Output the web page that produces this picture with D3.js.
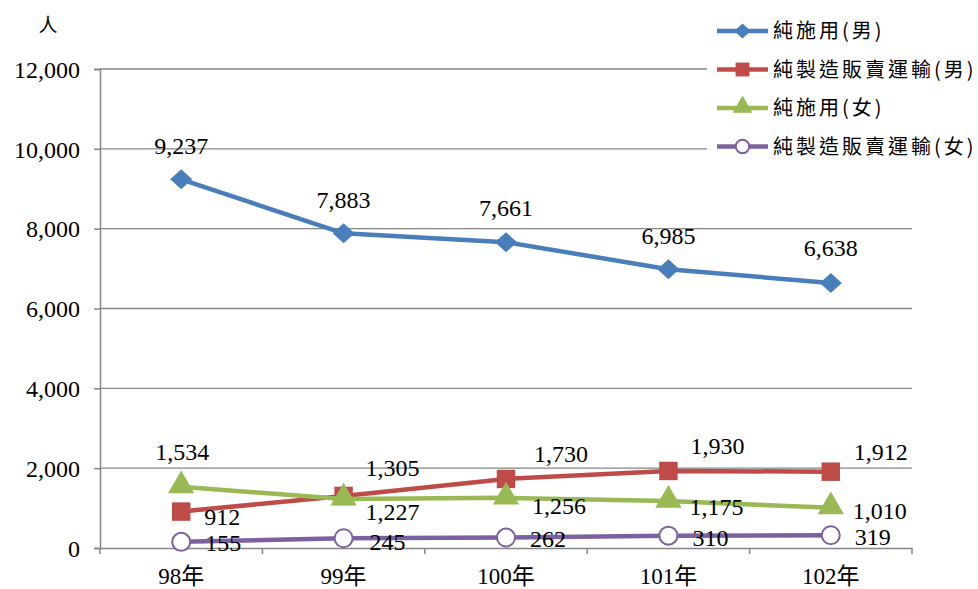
<!DOCTYPE html>
<html>
<head>
<meta charset="utf-8">
<script src="https://cdn.jsdelivr.net/npm/d3@7"></script>
<style>
  body { margin: 0; background: #fff; }
  svg { display: block; }
  .num { font-family: "Liberation Serif", "Times New Roman", serif; font-size: 24px; fill: #000; }
  .cjk { font-family: "Noto Sans CJK TC", "Noto Sans CJK SC", sans-serif; fill: #000; }
</style>
</head>
<body>
<div id="chart"></div>
<script>
// data
var years = ['98', '99', '100', '101', '102'];
var useMale = [9237, 7883, 7661, 6985, 6638];
var tradeMale = [912, 1305, 1730, 1930, 1912];
var useFemale = [1534, 1227, 1256, 1175, 1010];
var tradeFemale = [155, 245, 262, 310, 319];
var seriesNames = ['純施用(男)', '純製造販賣運輸(男)', '純施用(女)', '純製造販賣運輸(女)'];
var yTicks = [0, 2000, 4000, 6000, 8000, 10000, 12000];

var W = 978, H = 589;
var gray = '#868686';

// series styles; label offsets are (dx, dy) of label centre from point
var series = [
    { values: useMale, color: '#4A7EBB', marker: 'diamond',
      lab: [[0, -33], [0, -33], [0, -34], [0, -33], [0, -35]] },
    { values: tradeMale, color: '#BE4B48', marker: 'square',
      lab: [[41, 5], [49, -28], [55, -25], [49, -25], [50, -20]] },
    { values: useFemale, color: '#98B954', marker: 'triangle',
      lab: [[1, -35], [49, 13], [53, 8], [48, 6], [49, 3]] },
    { values: tradeFemale, color: '#7D60A0', marker: 'circle',
      lab: [[42, 1], [44, 4], [42, 1.5], [42, 2.4], [42, 2]] }
];

var svg = d3.select('#chart').append('svg')
    .attr('width', W)
    .attr('height', H);

var x = d3.scaleBand().domain(years).range([100, 912]);
var y = d3.scaleLinear().domain([0, 12000]).range([548, 69]);
var cx = function(i) { return x(years[i]) + x.bandwidth() / 2; };

// gridlines
svg.append('g').selectAll('line')
    .data(yTicks.slice(1))
    .enter().append('line')
    .attr('x1', 100).attr('x2', 912)
    .attr('y1', function(d) { return y(d); })
    .attr('y2', function(d) { return y(d); })
    .attr('stroke', gray).attr('stroke-width', 1.3);

// y axis
var yAxis = svg.append('g')
    .attr('transform', 'translate(100,0)')
    .call(d3.axisLeft(y).tickValues(yTicks).tickFormat(d3.format(',')).tickSize(6).tickPadding(14));
yAxis.select('.domain').attr('stroke', gray).attr('stroke-width', 1.5);
yAxis.selectAll('.tick line').attr('stroke', gray).attr('stroke-width', 1.5);
yAxis.selectAll('.tick text').attr('class', 'num').attr('dy', '0.34em');

// x axis
var xAxis = svg.append('g')
    .attr('transform', 'translate(0,548)')
    .call(d3.axisBottom(x).tickSize(0).tickPadding(20).tickFormat(function(d) { return d + '年'; }));
xAxis.select('.domain').attr('stroke', gray).attr('stroke-width', 1.5);
xAxis.selectAll('.tick text')
    .style('font-family', '"Liberation Serif", "Noto Sans CJK TC", serif')
    .style('font-size', '23px')
    .attr('fill', '#000');
xAxis.selectAll('.bound')
    .data(years.map(function(d) { return x(d); }).concat([x.range()[1]]))
    .enter().append('line')
    .attr('x1', function(d) { return d; }).attr('x2', function(d) { return d; })
    .attr('y1', 0).attr('y2', 6)
    .attr('stroke', gray).attr('stroke-width', 1.5);

// unit
svg.append('text').attr('class', 'cjk')
    .attr('x', 48).attr('y', 32)
    .attr('text-anchor', 'middle')
    .style('font-size', '19px')
    .text('人');

function drawMarker(g, type, color, s) {
    if (type === 'circle') {
        g.append('circle').attr('r', s * 0.45)
            .attr('fill', '#fff').attr('stroke', color).attr('stroke-width', 2);
    } else if (type === 'diamond') {
        var a = s * 0.55, b = s * 0.5;
        g.append('path')
            .attr('d', 'M0,' + (-b) + 'L' + a + ',0L0,' + b + 'L' + (-a) + ',0Z')
            .attr('fill', color);
    } else {
        var sym = { square: d3.symbolSquare, triangle: d3.symbolTriangle }[type];
        var area = { square: s * s * 0.85, triangle: s * s * 0.75 }[type];
        g.append('path')
            .attr('d', d3.symbol().type(sym).size(area)())
            .attr('transform', type === 'triangle' ? 'translate(0,-1)' : null)
            .attr('fill', color);
    }
}

var line = d3.line()
    .x(function(d, i) { return cx(i); })
    .y(function(d) { return y(d); });

series.forEach(function(s) {
    var g = svg.append('g');
    g.append('path')
        .datum(s.values)
        .attr('d', line)
        .attr('fill', 'none')
        .attr('stroke', s.color)
        .attr('stroke-width', 4.5)
        .attr('stroke-linejoin', 'round');
    s.values.forEach(function(v, i) {
        var m = g.append('g').attr('transform', 'translate(' + cx(i) + ',' + y(v) + ')');
        drawMarker(m, s.marker, s.color, 20);
    });
});

// data labels on top
series.forEach(function(s) {
    svg.append('g').selectAll('text')
        .data(s.values)
        .enter().append('text')
        .attr('class', 'num')
        .attr('text-anchor', 'middle')
        .attr('x', function(d, i) { return cx(i) + s.lab[i][0]; })
        .attr('y', function(d, i) { return y(d) + s.lab[i][1] + 8; })
        .text(function(d) { return d3.format(',')(d); });
});

// legend
var legend = svg.append('g');
legend.append('rect')
    .attr('x', 707).attr('y', 8).attr('width', 271).attr('height', 158)
    .attr('fill', '#fff');
series.forEach(function(s, i) {
    var ly = 31 + i * 38.5;
    var item = legend.append('g').attr('transform', 'translate(717,' + ly + ')');
    item.append('line')
        .attr('x1', 0).attr('x2', 51)
        .attr('stroke', s.color).attr('stroke-width', 4.5);
    var m = item.append('g').attr('transform', 'translate(25.5,0)');
    drawMarker(m, s.marker, s.color, 15);
    item.append('text').attr('class', 'cjk')
        .attr('x', 56).attr('y', 7)
        .style('font-size', '20px')
        .style('letter-spacing', '3px')
        .text(seriesNames[i]);
});
</script>
</body>
</html>
